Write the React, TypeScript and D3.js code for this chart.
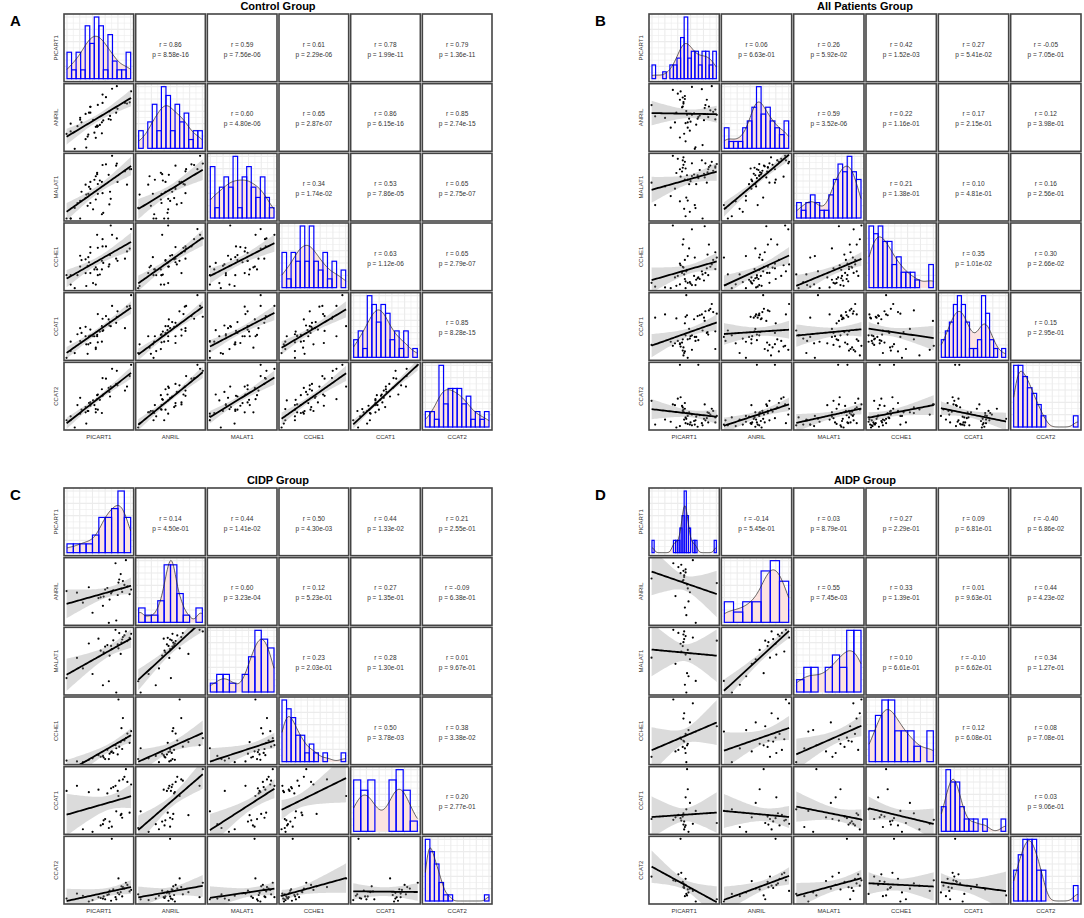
import React, { useEffect, useRef } from 'react';
import * as d3 from 'd3';

const genes = ['PICART1', 'ANRIL', 'MALAT1', 'CCHE1', 'CCAT1', 'CCAT2'];

// Control group (n = 44), relative expression
const controlPICART1 = [1.8, 0.6, 3.5, 1.2, 3.7, 1.2, 3.4, 4.9, 2.6, 3.8, 2.2, 4.9, 4.5, 2.8, 5.8, 3.9, 5.2, 2.6, 4.7, 6.0, 4.1, 5.5, 3.4, 5.1, 7.0, 4.1, 5.8, 5.1, 6.9, 4.1, 6.8, 5.9, 7.9, 5.2, 7.1, 9.2, 6.4, 8.1, 5.9, 9.5, 8.0, 9.9, 7.3, 10.1];
const controlANRIL = [0.4, 2.7, 0.6, 3.1, 2.3, 4.3, 1.9, 3.8, 4.9, 2.6, 3.9, 2.1, 4.9, 4.5, 2.8, 6.0, 3.9, 5.2, 2.9, 4.8, 6.0, 4.1, 5.8, 3.8, 5.5, 6.9, 4.5, 4.0, 6.2, 6.9, 5.0, 7.5, 6.0, 7.2, 4.9, 7.5, 8.4, 6.6, 8.8, 7.4, 10.1, 7.6, 9.7, 9.3];
const controlMALAT1 = [2.5, 1.0, 4.4, 1.0, 2.8, 1.0, 5.8, 3.7, 1.0, 4.5, 3.2, 7.0, 2.3, 4.8, 1.6, 5.5, 4.5, 3.5, 6.5, 1.8, 5.2, 6.4, 3.9, 7.5, 4.8, 3.2, 6.2, 7.3, 3.0, 6.2, 7.2, 4.6, 8.5, 5.9, 3.8, 7.7, 8.7, 6.2, 8.6, 5.8, 8.8, 8.0, 9.9, 8.0];
const controlCCHE1 = [1.0, 2.8, 1.3, 2.8, 4.1, 1.5, 3.1, 1.5, 4.0, 5.3, 2.8, 3.9, 1.7, 4.9, 3.6, 4.6, 2.8, 5.5, 3.6, 4.5, 6.7, 2.9, 5.0, 3.6, 5.6, 3.1, 4.8, 8.4, 4.3, 5.9, 4.0, 6.8, 5.1, 6.6, 9.7, 5.1, 6.8, 4.8, 7.8, 6.1, 7.9, 6.5, 8.4, 9.2];
const controlCCAT1 = [1.9, 1.2, 3.2, 2.2, 1.8, 3.6, 4.4, 2.5, 3.7, 3.2, 4.7, 2.7, 4.4, 4.9, 3.6, 4.4, 3.5, 5.6, 4.4, 5.3, 3.4, 5.1, 5.8, 4.6, 6.5, 4.5, 5.9, 4.4, 6.0, 5.4, 6.9, 5.2, 6.4, 7.7, 5.9, 5.6, 7.4, 8.1, 7.0, 8.8, 7.3, 8.9, 8.9, 10.5];
const controlCCAT2 = [0.8, 1.9, 1.4, 2.5, 3.3, 1.9, 3.1, 3.6, 2.9, 3.3, 4.2, 3.1, 4.9, 3.5, 3.0, 4.5, 3.5, 5.3, 4.2, 5.8, 4.1, 5.0, 3.9, 5.7, 5.5, 4.3, 6.6, 5.1, 6.2, 4.6, 6.8, 5.6, 7.4, 5.8, 7.0, 6.4, 8.2, 7.2, 8.3, 7.0, 9.4, 8.6, 9.7, 10.3];

// CIDP group (n = 30)
const cidpPICART1 = [8.5, 7.9, 6.2, 8.8, 5.6, 9.2, 7.0, 3.2, 8.1, 6.8, 1.0, 7.6, 8.4, 4.5, 9.5, 6.5, 2.4, 8.0, 5.9, 7.3, 9.0, 6.0, 7.7, 4.0, 8.6, 7.1, 5.3, 8.3, 6.7, 9.7];
const cidpANRIL = [5.2, 4.8, 5.5, 6.1, 4.5, 5.9, 5.0, 3.8, 6.8, 4.2, 5.3, 8.9, 5.6, 2.5, 4.9, 5.7, 5.1, 6.4, 3.4, 5.4, 9.3, 4.6, 1.5, 5.8, 6.6, 5.2, 4.4, 7.5, 1.2, 5.5];
const cidpMALAT1 = [7.8, 7.2, 6.9, 8.3, 6.4, 7.6, 7.0, 4.2, 8.6, 5.8, 3.0, 9.0, 7.4, 3.5, 8.0, 7.1, 5.5, 6.7, 2.1, 7.7, 8.8, 6.2, 1.2, 7.3, 8.1, 6.6, 7.9, 6.0, 2.6, 8.5];
const cidpCCHE1 = [2.5, 1.8, 1.2, 3.6, 1.5, 4.5, 2.1, 0.8, 2.8, 1.9, 1.0, 3.0, 5.2, 1.3, 3.3, 2.4, 0.9, 8.9, 1.6, 2.0, 3.9, 1.4, 2.6, 1.1, 6.5, 2.2, 1.7, 3.4, 1.2, 4.8];
const cidpCCAT1 = [4.1, 6.2, 4.0, 7.3, 3.5, 6.9, 6.4, 3.2, 7.0, 3.8, 6.2, 6.6, 4.4, 3.0, 4.5, 6.0, 6.6, 5.8, 3.6, 6.5, 7.9, 3.9, 4.6, 6.1, 7.1, 3.4, 6.3, 4.3, 3.3, 6.7];
const cidpCCAT2 = [1.5, 2.0, 1.1, 2.6, 1.3, 3.1, 0.9, 1.6, 1.8, 2.3, 1.2, 1.4, 2.9, 1.0, 2.2, 1.7, 1.9, 4.0, 1.2, 2.5, 3.4, 1.5, 1.1, 0.8, 2.8, 9.5, 1.4, 2.1, 1.8, 2.4];

// AIDP group (n = 22)
const aidpPICART1 = [5.0, 4.8, 5.2, 0.5, 5.1, 4.9, 5.5, 9.5, 4.6, 5.3, 5.0, 3.8, 6.2, 5.4, 4.5, 5.6, 4.2, 5.8, 4.9, 6.6, 5.2, 3.5];
const aidpANRIL = [7.2, 6.5, 8.0, 6.8, 3.0, 7.8, 5.5, 6.2, 8.6, 2.0, 7.0, 4.5, 9.2, 6.0, 7.5, 3.8, 8.3, 5.0, 6.6, 1.0, 7.6, 8.8];
const aidpMALAT1 = [8.4, 7.5, 8.8, 6.0, 2.5, 9.0, 7.0, 8.2, 6.8, 1.5, 9.4, 5.2, 8.6, 4.0, 7.8, 3.6, 9.2, 5.8, 8.0, 3.0, 6.4, 9.6];
const aidpCCHE1 = [3.5, 2.8, 4.5, 1.5, 2.6, 6.5, 3.2, 5.5, 3.8, 0.8, 7.2, 2.2, 8.5, 3.0, 4.0, 5.0, 2.4, 6.0, 3.6, 4.8, 2.0, 9.0];
const aidpCCAT1 = [2.5, 3.1, 2.0, 2.8, 1.8, 3.5, 6.5, 2.3, 2.6, 4.0, 1.5, 3.0, 2.2, 9.0, 2.9, 1.2, 3.3, 4.8, 2.1, 3.8, 5.5, 2.7];
const aidpCCAT2 = [3.0, 3.8, 4.2, 4.5, 1.9, 3.6, 2.8, 1.5, 5.0, 2.2, 3.3, 3.9, 2.6, 2.0, 9.5, 2.4, 4.8, 2.9, 3.1, 1.2, 3.4, 4.0];

// correlation labels, upper triangle in row order
const controlR = ['0.86', '0.59', '0.61', '0.78', '0.79', '0.60', '0.65', '0.86', '0.85', '0.34', '0.53', '0.65', '0.63', '0.65', '0.85'];
const controlP = ['8.58e-16', '7.56e-06', '2.29e-06', '1.99e-11', '1.36e-11', '4.80e-06', '2.87e-07', '6.15e-16', '2.74e-15', '1.74e-02', '7.86e-05', '2.75e-07', '1.12e-06', '2.79e-07', '8.28e-15'];
const allR = ['0.06', '0.26', '0.42', '0.27', '-0.05', '0.59', '0.22', '0.17', '0.12', '0.21', '0.10', '0.16', '0.35', '0.30', '0.15'];
const allP = ['6.63e-01', '5.92e-02', '1.52e-03', '5.41e-02', '7.05e-01', '3.52e-06', '1.16e-01', '2.15e-01', '3.98e-01', '1.38e-01', '4.81e-01', '2.56e-01', '1.01e-02', '2.66e-02', '2.95e-01'];
const cidpR = ['0.14', '0.44', '0.50', '0.44', '0.21', '0.60', '0.12', '0.27', '-0.09', '0.23', '0.28', '0.01', '0.50', '0.38', '0.20'];
const cidpP = ['4.50e-01', '1.41e-02', '4.30e-03', '1.33e-02', '2.55e-01', '3.23e-04', '5.23e-01', '1.35e-01', '6.38e-01', '2.03e-01', '1.30e-01', '9.67e-01', '3.78e-03', '3.38e-02', '2.77e-01'];
const aidpR = ['-0.14', '0.03', '0.27', '0.09', '-0.40', '0.55', '0.33', '0.01', '0.44', '0.10', '-0.10', '0.34', '0.12', '0.08', '0.03'];
const aidpP = ['5.45e-01', '8.79e-01', '2.29e-01', '6.81e-01', '6.86e-02', '7.45e-03', '1.39e-01', '9.63e-01', '4.23e-02', '6.61e-01', '6.62e-01', '1.27e-01', '6.08e-01', '7.08e-01', '9.06e-01'];

// histogram bin counts per gene
const controlBins = [14, 14, 14, 14, 14, 14];
const allBins = [18, 14, 14, 14, 16, 14];
const cidpBins = [10, 10, 10, 14, 9, 14];
const aidpBins = [30, 7, 9, 10, 14, 14];

const controlCols = [controlPICART1, controlANRIL, controlMALAT1, controlCCHE1, controlCCAT1, controlCCAT2];
const cidpCols = [cidpPICART1, cidpANRIL, cidpMALAT1, cidpCCHE1, cidpCCAT1, cidpCCAT2];
const aidpCols = [aidpPICART1, aidpANRIL, aidpMALAT1, aidpCCHE1, aidpCCAT1, aidpCCAT2];
const allCols = cidpCols.map((c, i) => c.concat(aidpCols[i]));

const groups = [
  { letter: 'A', title: 'Control Group', x: 63, y: 13, w: 430, h: 418, cols: controlCols, r: controlR, p: controlP, bins: controlBins },
  { letter: 'B', title: 'All Patients Group', x: 648, y: 13, w: 434, h: 418, cols: allCols, r: allR, p: allP, bins: allBins },
  { letter: 'C', title: 'CIDP Group', x: 63, y: 487, w: 430, h: 418, cols: cidpCols, r: cidpR, p: cidpP, bins: cidpBins },
  { letter: 'D', title: 'AIDP Group', x: 648, y: 487, w: 434, h: 418, cols: aidpCols, r: aidpR, p: aidpP, bins: aidpBins },
];

const FONT = 'Liberation Sans, Arial, sans-serif';

function drawGroup(svg: any, g: any) {
  const pw = g.w / 6, ph = g.h / 6;
  const cw = pw - 2, chh = ph - 2;
  const root = svg.append('g');

  root.append('clipPath').attr('id', `clip-${g.letter}`)
    .append('rect').attr('width', cw).attr('height', chh);

  root.append('text').attr('x', g.x - 53).attr('y', g.y + 13)
    .attr('font-family', FONT).attr('font-weight', 'bold').attr('font-size', 15).text(g.letter);
  root.append('text').attr('x', g.x + g.w / 2).attr('y', g.y - 3).attr('text-anchor', 'middle')
    .attr('font-family', FONT).attr('font-weight', 'bold').attr('font-size', 11).text(g.title);

  genes.forEach((name, i) => {
    root.append('text').attr('x', g.x + i * pw + pw / 2).attr('y', g.y + g.h + 8)
      .attr('text-anchor', 'middle').attr('font-family', FONT).attr('font-size', 6).attr('fill', '#333').text(name);
    root.append('text').attr('transform', `translate(${g.x - 5},${g.y + i * ph + ph / 2}) rotate(-90)`)
      .attr('text-anchor', 'middle').attr('font-family', FONT).attr('font-size', 6).attr('fill', '#333').text(name);
  });

  let k = 0;
  for (let i = 0; i < 6; i++) {
    for (let j = 0; j < 6; j++) {
      const cell = root.append('g').attr('transform', `translate(${g.x + j * pw + 1},${g.y + i * ph + 1})`);
      cell.append('rect').attr('width', cw).attr('height', chh).attr('fill', '#fff');
      if (i === j) drawHist(cell, g.cols[i], g.bins[i], cw, chh);
      else if (j > i) {
        cell.append('text').attr('x', cw / 2).attr('y', chh / 2 - 1).attr('text-anchor', 'middle')
          .attr('font-family', FONT).attr('font-size', 6.5).attr('fill', '#333').text(`r = ${g.r[k]}`);
        cell.append('text').attr('x', cw / 2).attr('y', chh / 2 + 9).attr('text-anchor', 'middle')
          .attr('font-family', FONT).attr('font-size', 6.5).attr('fill', '#333').text(`p = ${g.p[k]}`);
        k++;
      } else drawScatter(cell, g.cols[j], g.cols[i], cw, chh, `clip-${g.letter}`);
      cell.append('rect').attr('width', cw).attr('height', chh).attr('fill', 'none')
        .attr('stroke', '#444').attr('stroke-width', 1.6);
    }
  }
}

function drawHist(cell: any, vals: number[], nb: number, cw: number, chh: number) {
  const [lo, hi] = d3.extent(vals) as [number, number];
  const step = (hi - lo) / nb;
  const thresholds = d3.range(1, nb).map(t => lo + t * step);
  const bins = d3.bin().domain([lo, hi]).thresholds(thresholds)(vals);

  // background grid
  const gx = d3.scaleLinear().domain([0, 10]).range([3, cw - 3]);
  const gy = d3.scaleLinear().domain([0, 10]).range([3, chh - 3]);
  d3.range(0, 11).forEach(t => {
    cell.append('line').attr('x1', gx(t)).attr('x2', gx(t)).attr('y1', 0).attr('y2', chh)
      .attr('stroke', '#ececec').attr('stroke-width', t % 2 ? 0.6 : 1.1);
    cell.append('line').attr('y1', gy(t)).attr('y2', gy(t)).attr('x1', 0).attr('x2', cw)
      .attr('stroke', '#ececec').attr('stroke-width', t % 2 ? 0.6 : 1.1);
  });

  // gaussian kde, Silverman bandwidth
  const n = vals.length;
  const sd = d3.deviation(vals) || 1;
  const iqr = (d3.quantile(vals, 0.75)! - d3.quantile(vals, 0.25)!) / 1.34;
  const bw = 0.9 * Math.min(sd, iqr > 0 ? iqr : sd) * Math.pow(n, -0.2);
  const grid = d3.range(0, 81).map(t => lo + (t / 80) * (hi - lo));
  const dens = grid.map(x0 => {
    const d = d3.sum(vals, v => Math.exp(-0.5 * ((x0 - v) / bw) ** 2)) / (n * bw * Math.sqrt(2 * Math.PI));
    return [x0, d * n * step] as [number, number];
  });

  const x = d3.scaleLinear().domain([lo, hi]).range([3, cw - 3]);
  const ymax = Math.max(d3.max(bins, b => b.length)!, d3.max(dens, d => d[1])!);
  const y = d3.scaleLinear().domain([0, ymax]).range([chh - 3, 3]);

  cell.append('path').datum(dens)
    .attr('d', d3.area<[number, number]>().x(d => x(d[0])).y0(y(0)).y1(d => y(d[1])))
    .attr('fill', '#fce3e0');
  cell.selectAll('rect.bar').data(bins).enter().append('rect').attr('class', 'bar')
    .attr('x', (b: any) => x(b.x0)).attr('width', (b: any) => Math.max(0, x(b.x1) - x(b.x0)))
    .attr('y', (b: any) => y(b.length)).attr('height', (b: any) => y(0) - y(b.length))
    .attr('fill', 'none').attr('stroke', '#0000ff').attr('stroke-width', 1.2);
  cell.append('path').datum(dens)
    .attr('d', d3.line<[number, number]>().x(d => x(d[0])).y(d => y(d[1])))
    .attr('fill', 'none').attr('stroke', '#222').attr('stroke-width', 0.7);
}

function drawScatter(cell: any, xs0: number[], ys0: number[], cw: number, chh: number, clip: string) {
  const n = Math.min(xs0.length, ys0.length);
  const xs = xs0.slice(0, n), ys = ys0.slice(0, n);
  const [xl, xh] = d3.extent(xs) as [number, number];
  const [yl, yh] = d3.extent(ys) as [number, number];
  const px = (xh - xl) * 0.04, py = (yh - yl) * 0.04;
  const x = d3.scaleLinear().domain([xl - px, xh + px]).range([0, cw]);
  const y = d3.scaleLinear().domain([yl - py, yh + py]).range([chh, 0]);

  const mx = d3.mean(xs)!, my = d3.mean(ys)!;
  const sxx = d3.sum(xs, v => (v - mx) ** 2);
  const sxy = d3.sum(xs.map((v, i) => (v - mx) * (ys[i] - my)));
  const b = sxy / sxx, a = my - b * mx;
  const sse = d3.sum(xs.map((v, i) => (ys[i] - (a + b * v)) ** 2));
  const s = Math.sqrt(sse / (n - 2));
  const tcrit = 1.96 + 2.4 / (n - 2);
  const band = d3.range(0, 41).map(t => {
    const xv = xl + (t / 40) * (xh - xl);
    const se = s * Math.sqrt(1 / n + (xv - mx) ** 2 / sxx);
    const fit = a + b * xv;
    return { xv, lo: fit - tcrit * se, hi: fit + tcrit * se, fit };
  });

  const inner = cell.append('g').attr('clip-path', `url(#${clip})`);
  inner.selectAll('circle').data(xs).enter().append('circle')
    .attr('cx', (d: number) => x(d)).attr('cy', (_: number, i: number) => y(ys[i]))
    .attr('r', 1.1).attr('fill', '#000');
  inner.append('path').datum(band)
    .attr('d', d3.area<any>().x(d => x(d.xv)).y0(d => y(d.lo)).y1(d => y(d.hi)))
    .attr('fill', '#999').attr('opacity', 0.35);
  inner.append('path').datum(band)
    .attr('d', d3.line<any>().x(d => x(d.xv)).y(d => y(d.fit)))
    .attr('fill', 'none').attr('stroke', '#000').attr('stroke-width', 1.8);
}

export default function App() {
  const ref = useRef<SVGSVGElement>(null);
  useEffect(() => {
    if (!ref.current) return;
    const svg = d3.select(ref.current);
    svg.selectAll('*').remove();
    groups.forEach(g => drawGroup(svg, g));
  }, []);
  return (
    <svg ref={ref} width={1084} height={918}
      style={{ position: 'absolute', left: 0, top: 0, background: '#fff' }} />
  );
}
